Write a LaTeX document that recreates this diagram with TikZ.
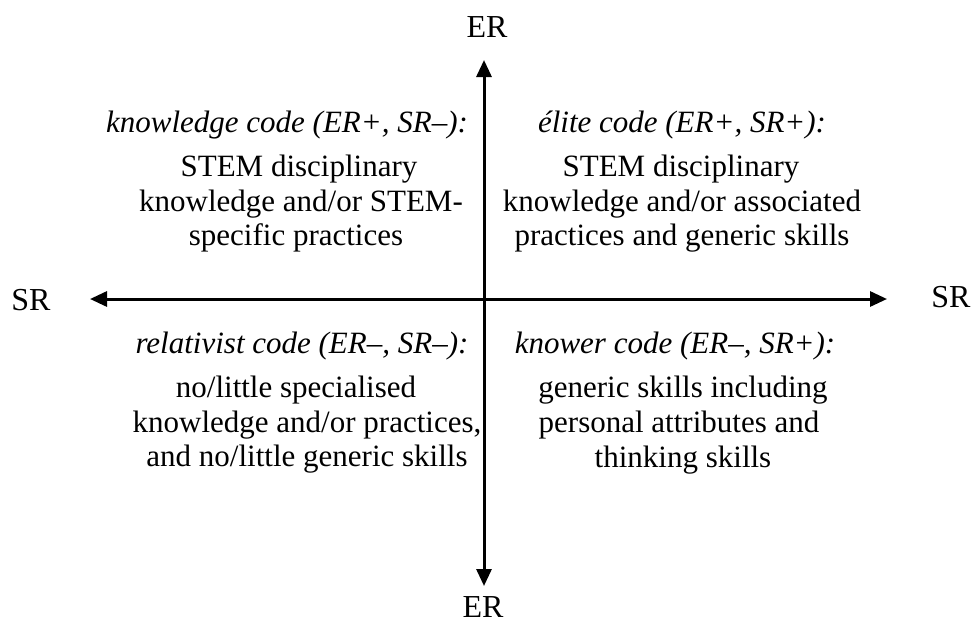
\documentclass[tikz,border=0pt]{standalone}
\usepackage{fontspec}
\setmainfont{Liberation Serif}
\usetikzlibrary{arrows.meta}
\begin{document}
\begin{tikzpicture}[x=1pt,y=-1pt,
  axis/.style={line width=3pt,-{Triangle[length=17pt,width=15pt]}},
  axlabel/.style={font=\fontsize{32}{36}\selectfont,inner sep=0pt,anchor=base},
  head/.style={font=\fontsize{31}{35}\selectfont\itshape,inner sep=0pt,anchor=base},
  body/.style={font=\fontsize{31}{35}\selectfont,inner sep=0pt,anchor=base}]
\useasboundingbox (0,0) rectangle (972,622);
% axes
\coordinate (o) at (484,299);
\coordinate (top) at (484,60);
\coordinate (bot) at (484,586);
\coordinate (lft) at (90,299);
\coordinate (rgt) at (887,299);
\draw[axis] (o) -- (top);
\draw[axis] (o) -- (bot);
\draw[axis] (o) -- (lft);
\draw[axis] (o) -- (rgt);
% axis labels
\node[axlabel] (ert) at (487,37) {ER};
\node[axlabel] (erb) at (483,617) {ER};
\node[axlabel] (srl) at (31,310) {SR};
\node[axlabel] (srr) at (951,307) {SR};
% upper left
\node[head] (h1) at (287,132) {knowledge code (ER+, SR–):};
\node[body] (a1) at (299,176) {STEM disciplinary};
\node[body] (a2) at (301,211) {knowledge and/or STEM-};
\node[body] (a3) at (296,245) {specific practices};
% upper right
\node[head] (h2) at (682,132) {élite code (ER+, SR+):};
\node[body] (b1) at (681,176) {STEM disciplinary};
\node[body] (b2) at (682,211) {knowledge and/or associated};
\node[body] (b3) at (682,245) {practices and generic skills};
% lower left
\node[head] (h3) at (302,353) {relativist code (ER–, SR–):};
\node[body] (c1) at (296,397) {no/little specialised};
\node[body] (c2) at (307,432) {knowledge and/or practices,};
\node[body] (c3) at (307,466) {and no/little generic skills};
% lower right
\node[head] (h4) at (675,353) {knower code (ER–, SR+):};
\node[body] (d1) at (683,397) {generic skills including};
\node[body] (d2) at (679,432) {personal attributes and};
\node[body] (d3) at (683,467) {thinking skills};
\end{tikzpicture}
\end{document}
